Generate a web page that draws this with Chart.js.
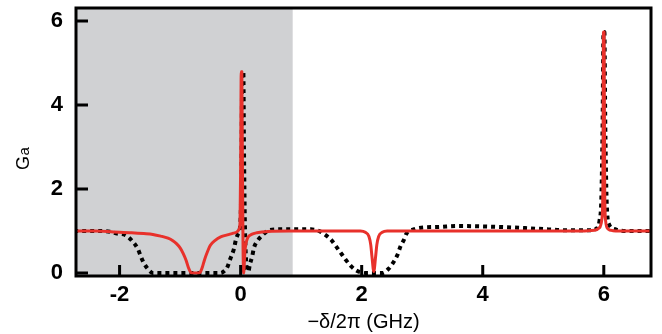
<!DOCTYPE html>
<html>
<head>
<meta charset="utf-8">
<script src="https://cdn.jsdelivr.net/npm/chart.js@4"></script>
<style>
  html,body{margin:0;padding:0;background:#fff;}
  #wrap{width:662px;height:334px;position:relative;}
</style>
</head>
<body>
<div id="wrap"><canvas id="c"></canvas></div>
<script>
// ── DATA ──────────────────────────────────────────────────────────────────────
const xTicks = [-2, 0, 2, 4, 6];
const yTicks = [0, 2, 4, 6];
const shadeEnd = 0.86;   // grey band runs from the left edge to here

// red solid curve, [x, Ga]
const redPts = [
  [-2.75,1.0],[-2.4,1.0],[-2.1,0.98],[-1.8,0.96],[-1.6,0.94],[-1.45,0.92],[-1.32,0.88],
  [-1.2,0.83],[-1.12,0.77],[-1.06,0.7],[-1.0,0.6],[-0.95,0.47],[-0.9,0.3],[-0.86,0.12],
  [-0.83,0.03],[-0.8,0.0],[-0.69,0.0],[-0.66,0.04],[-0.63,0.15],[-0.6,0.3],[-0.55,0.5],
  [-0.5,0.66],[-0.42,0.78],[-0.33,0.86],[-0.22,0.91],[-0.12,0.95],[-0.06,0.98],[-0.03,1.03],
  [-0.01,1.2],[0.0,2.5],[0.01,4.79],[0.02,4.79],[0.03,2.5],[0.04,0.6],[0.05,0.0],[0.07,0.5],
  [0.09,0.72],[0.12,0.85],[0.18,0.92],[0.27,0.96],[0.45,0.99],[0.8,1.0],[1.3,1.0],[1.8,1.0],
  [1.98,1.0],[2.06,0.97],[2.12,0.87],[2.15,0.67],[2.17,0.39],[2.2,0.04],[2.23,0.39],[2.25,0.67],
  [2.28,0.87],[2.34,0.97],[2.42,1.0],[2.7,1.0],[3.5,1.0],[4.5,1.0],[5.5,1.0],[5.85,1.02],
  [5.93,1.08],[5.97,1.3],[5.985,2.0],[5.995,5.74],[6.005,5.74],[6.015,2.0],[6.03,1.25],
  [6.07,1.05],[6.15,1.01],[6.4,1.0],[6.8,1.0]
];

// black dotted curve, [x, Ga]
const blackPts = [
  [-2.75,1.0],[-2.3,1.0],[-2.15,0.98],[-2.04,0.94],[-1.9,0.9],[-1.79,0.76],[-1.7,0.58],
  [-1.65,0.4],[-1.6,0.24],[-1.51,0.06],[-1.45,0.0],[-0.33,0.0],[-0.27,0.05],[-0.22,0.14],
  [-0.17,0.34],[-0.11,0.58],[-0.08,0.78],[-0.04,0.94],[-0.01,1.1],[0.01,2.0],[0.025,4.5],
  [0.035,4.79],[0.045,4.79],[0.055,3.0],[0.07,1.2],[0.09,0.3],[0.11,0.07],[0.13,0.04],
  [0.15,0.19],[0.19,0.39],[0.22,0.6],[0.27,0.75],[0.36,0.9],[0.44,1.0],[0.6,1.04],
  [1.0,1.04],[1.16,1.04],[1.3,1.0],[1.37,0.94],[1.49,0.8],[1.57,0.65],[1.65,0.49],
  [1.73,0.33],[1.82,0.17],[1.9,0.07],[1.98,0.02],[2.1,0.0],[2.34,0.0],[2.45,0.11],
  [2.53,0.27],[2.59,0.43],[2.64,0.63],[2.7,0.8],[2.74,0.94],[2.86,1.04],[2.93,1.07],
  [3.3,1.1],[3.59,1.12],[4.25,1.1],[4.7,1.07],[5.08,1.04],[5.35,1.02],[5.79,1.02],
  [5.88,1.06],[5.93,1.25],[5.96,1.8],[5.98,3.5],[5.995,5.74],[6.01,5.74],[6.025,3.5],
  [6.05,1.6],[6.09,1.15],[6.17,1.05],[6.4,1.0],[6.8,1.0]
];

// ── CHART ─────────────────────────────────────────────────────────────────────
const FONT = "'Liberation Sans', Arial, Helvetica, sans-serif";
const toXY = pts => pts.map(p=>({x:p[0], y:p[1]}));

// grey band, frame and inward ticks
const frame = {
  id:'frame',
  beforeDatasetsDraw(ch){
    const {ctx, chartArea:a, scales:{x}} = ch;
    ctx.save();
    ctx.fillStyle = '#d0d1d3';
    ctx.fillRect(a.left, a.top, x.getPixelForValue(shadeEnd)-a.left, a.bottom-a.top);
    ctx.restore();
  },
  afterDatasetsDraw(ch){
    const {ctx, chartArea:a, scales:{x,y}} = ch;
    ctx.save();
    ctx.strokeStyle = '#000';
    ctx.lineWidth = 3;
    ctx.strokeRect(a.left, a.top, a.right-a.left, a.bottom-a.top);
    ctx.beginPath();
    yTicks.forEach(v=>{ const py=y.getPixelForValue(v); ctx.moveTo(a.left, py); ctx.lineTo(a.left+12, py); });
    xTicks.forEach(v=>{ const px=x.getPixelForValue(v); ctx.moveTo(px, a.bottom); ctx.lineTo(px, a.bottom-11); });
    ctx.stroke();
    ctx.restore();
  },
  afterDraw(ch){
    // y title "Ga" with a smaller a
    const ctx = ch.ctx;
    ctx.save();
    ctx.translate(29, 157);
    ctx.rotate(-Math.PI/2);
    ctx.fillStyle = '#000';
    ctx.textBaseline = 'alphabetic';
    ctx.font = `18px ${FONT}`;
    const w = ctx.measureText('G').width;
    ctx.fillText('G', -13, 0);
    ctx.font = `15px ${FONT}`;
    ctx.fillText('a', -13+w+0.5, 0);
    ctx.restore();
  }
};

new Chart(document.getElementById('c'), {
  type:'line',
  data:{datasets:[
    {data:toXY(redPts), borderColor:'#e8312b', borderWidth:3, pointRadius:0,
     cubicInterpolationMode:'monotone', borderJoinStyle:'round'},
    {data:toXY(blackPts), borderColor:'#000', borderWidth:4, borderDash:[4,4],
     borderCapStyle:'butt', pointRadius:0, cubicInterpolationMode:'monotone'}
  ]},
  options:{
    responsive:true, maintainAspectRatio:false, animation:false,
    layout:{padding:{top:8, right:11, left:0, bottom:0}},
    plugins:{legend:{display:false}, tooltip:{enabled:false}},
    scales:{
      x:{type:'linear', min:-2.72, max:6.78,
        grid:{display:false, drawTicks:false}, border:{display:false},
        afterBuildTicks:s=>{ s.ticks = xTicks.map(v=>({value:v})); },
        afterFit:s=>{ s.height = 58; s.paddingLeft = 0; s.paddingRight = 0; },
        ticks:{color:'#000', padding:6, font:{family:FONT, size:22, weight:'bold'}},
        title:{display:true, text:'\u2212\u03b4/2\u03c0 (GHz)', color:'#000',
          padding:{top:0, bottom:0}, font:{family:FONT, size:20}}
      },
      y:{type:'linear', min:-0.07, max:6.31,
        grid:{display:false, drawTicks:false}, border:{display:false},
        afterBuildTicks:s=>{ s.ticks = yTicks.map(v=>({value:v})); },
        afterFit:s=>{ s.width = 76; s.paddingTop = 0; s.paddingBottom = 0; },
        ticks:{color:'#000', padding:13, font:{family:FONT, size:22, weight:'bold'}}
      }
    }
  },
  plugins:[frame]
});
</script>
</body>
</html>
